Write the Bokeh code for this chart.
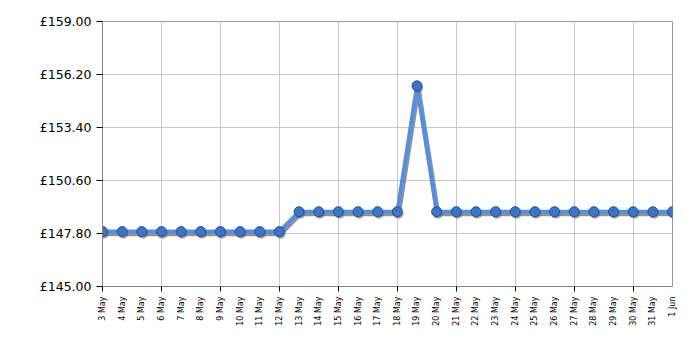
from bokeh.plotting import figure
from bokeh.models import FixedTicker, PrintfTickFormatter, ColumnDataSource
from bokeh.embed import file_html
from bokeh.resources import INLINE
import math

dates = ["3 May", "4 May", "5 May", "6 May", "7 May", "8 May", "9 May", "10 May",
         "11 May", "12 May", "13 May", "14 May", "15 May", "16 May", "17 May",
         "18 May", "19 May", "20 May", "21 May", "22 May", "23 May", "24 May",
         "25 May", "26 May", "27 May", "28 May", "29 May", "30 May", "31 May", "1 Jun"]
prices = [147.90] * 10 + [148.95] * 6 + [155.60] + [148.95] * 13
y_ticks = [145.00, 147.80, 150.60, 153.40, 156.20, 159.00]

idx = list(range(len(dates)))
src = ColumnDataSource(dict(x=idx, y=prices))
shadow = ColumnDataSource(dict(x=[i + 0.06 for i in idx], y=[v - 0.11 for v in prices]))

p = figure(width=700, height=350, output_backend="svg", toolbar_location=None,
           x_range=(0, len(dates) - 1), y_range=(y_ticks[0], y_ticks[-1]),
           min_border_left=102, min_border_right=28, min_border_top=21, min_border_bottom=64)
p.background_fill_color = "white"
p.border_fill_color = "white"
p.outline_line_color = "#999999"

p.line("x", "y", source=shadow, line_width=5, line_color="#777777", line_alpha=0.8)
p.line("x", "y", source=src, line_width=4, line_color="#5590e0")
p.scatter("x", "y", source=shadow, size=10, fill_color="#666666", line_color=None, fill_alpha=0.6)
p.scatter("x", "y", source=src, size=10, fill_color="#3a75c9", line_color="#2a4f88", line_width=1)

xa = p.xaxis[0]
xa.ticker = FixedTicker(ticks=idx, minor_ticks=idx[::3])
xa.major_label_overrides = {i: d for i, d in enumerate(dates)}
xa.major_label_orientation = math.pi / 2
xa.major_tick_out = 0
xa.major_tick_in = 0
xa.minor_tick_out = 5
xa.minor_tick_in = 0
xa.minor_tick_line_color = "black"
xa.axis_line_color = "#888888"
xa.major_label_text_font = "DejaVu Sans"
xa.major_label_text_font_size = "8px"
xa.major_label_text_color = "black"
xa.major_label_standoff = 5

ya = p.yaxis[0]
ya.ticker = FixedTicker(ticks=y_ticks)
ya.formatter = PrintfTickFormatter(format="£%.2f")
ya.major_tick_out = 6
ya.major_tick_in = 0
ya.minor_tick_out = 0
ya.minor_tick_in = 0
ya.major_tick_line_color = "black"
ya.axis_line_color = "#888888"
ya.major_label_text_font = "DejaVu Sans"
ya.major_label_text_font_size = "12.5px"
ya.major_label_text_color = "black"
ya.major_label_standoff = 5

p.xgrid.ticker = FixedTicker(ticks=idx[::3])
p.xgrid.grid_line_color = "#c8c8c8"
p.ygrid.grid_line_color = "#c8c8c8"

open("out.html", "w").write(file_html(p, INLINE))
